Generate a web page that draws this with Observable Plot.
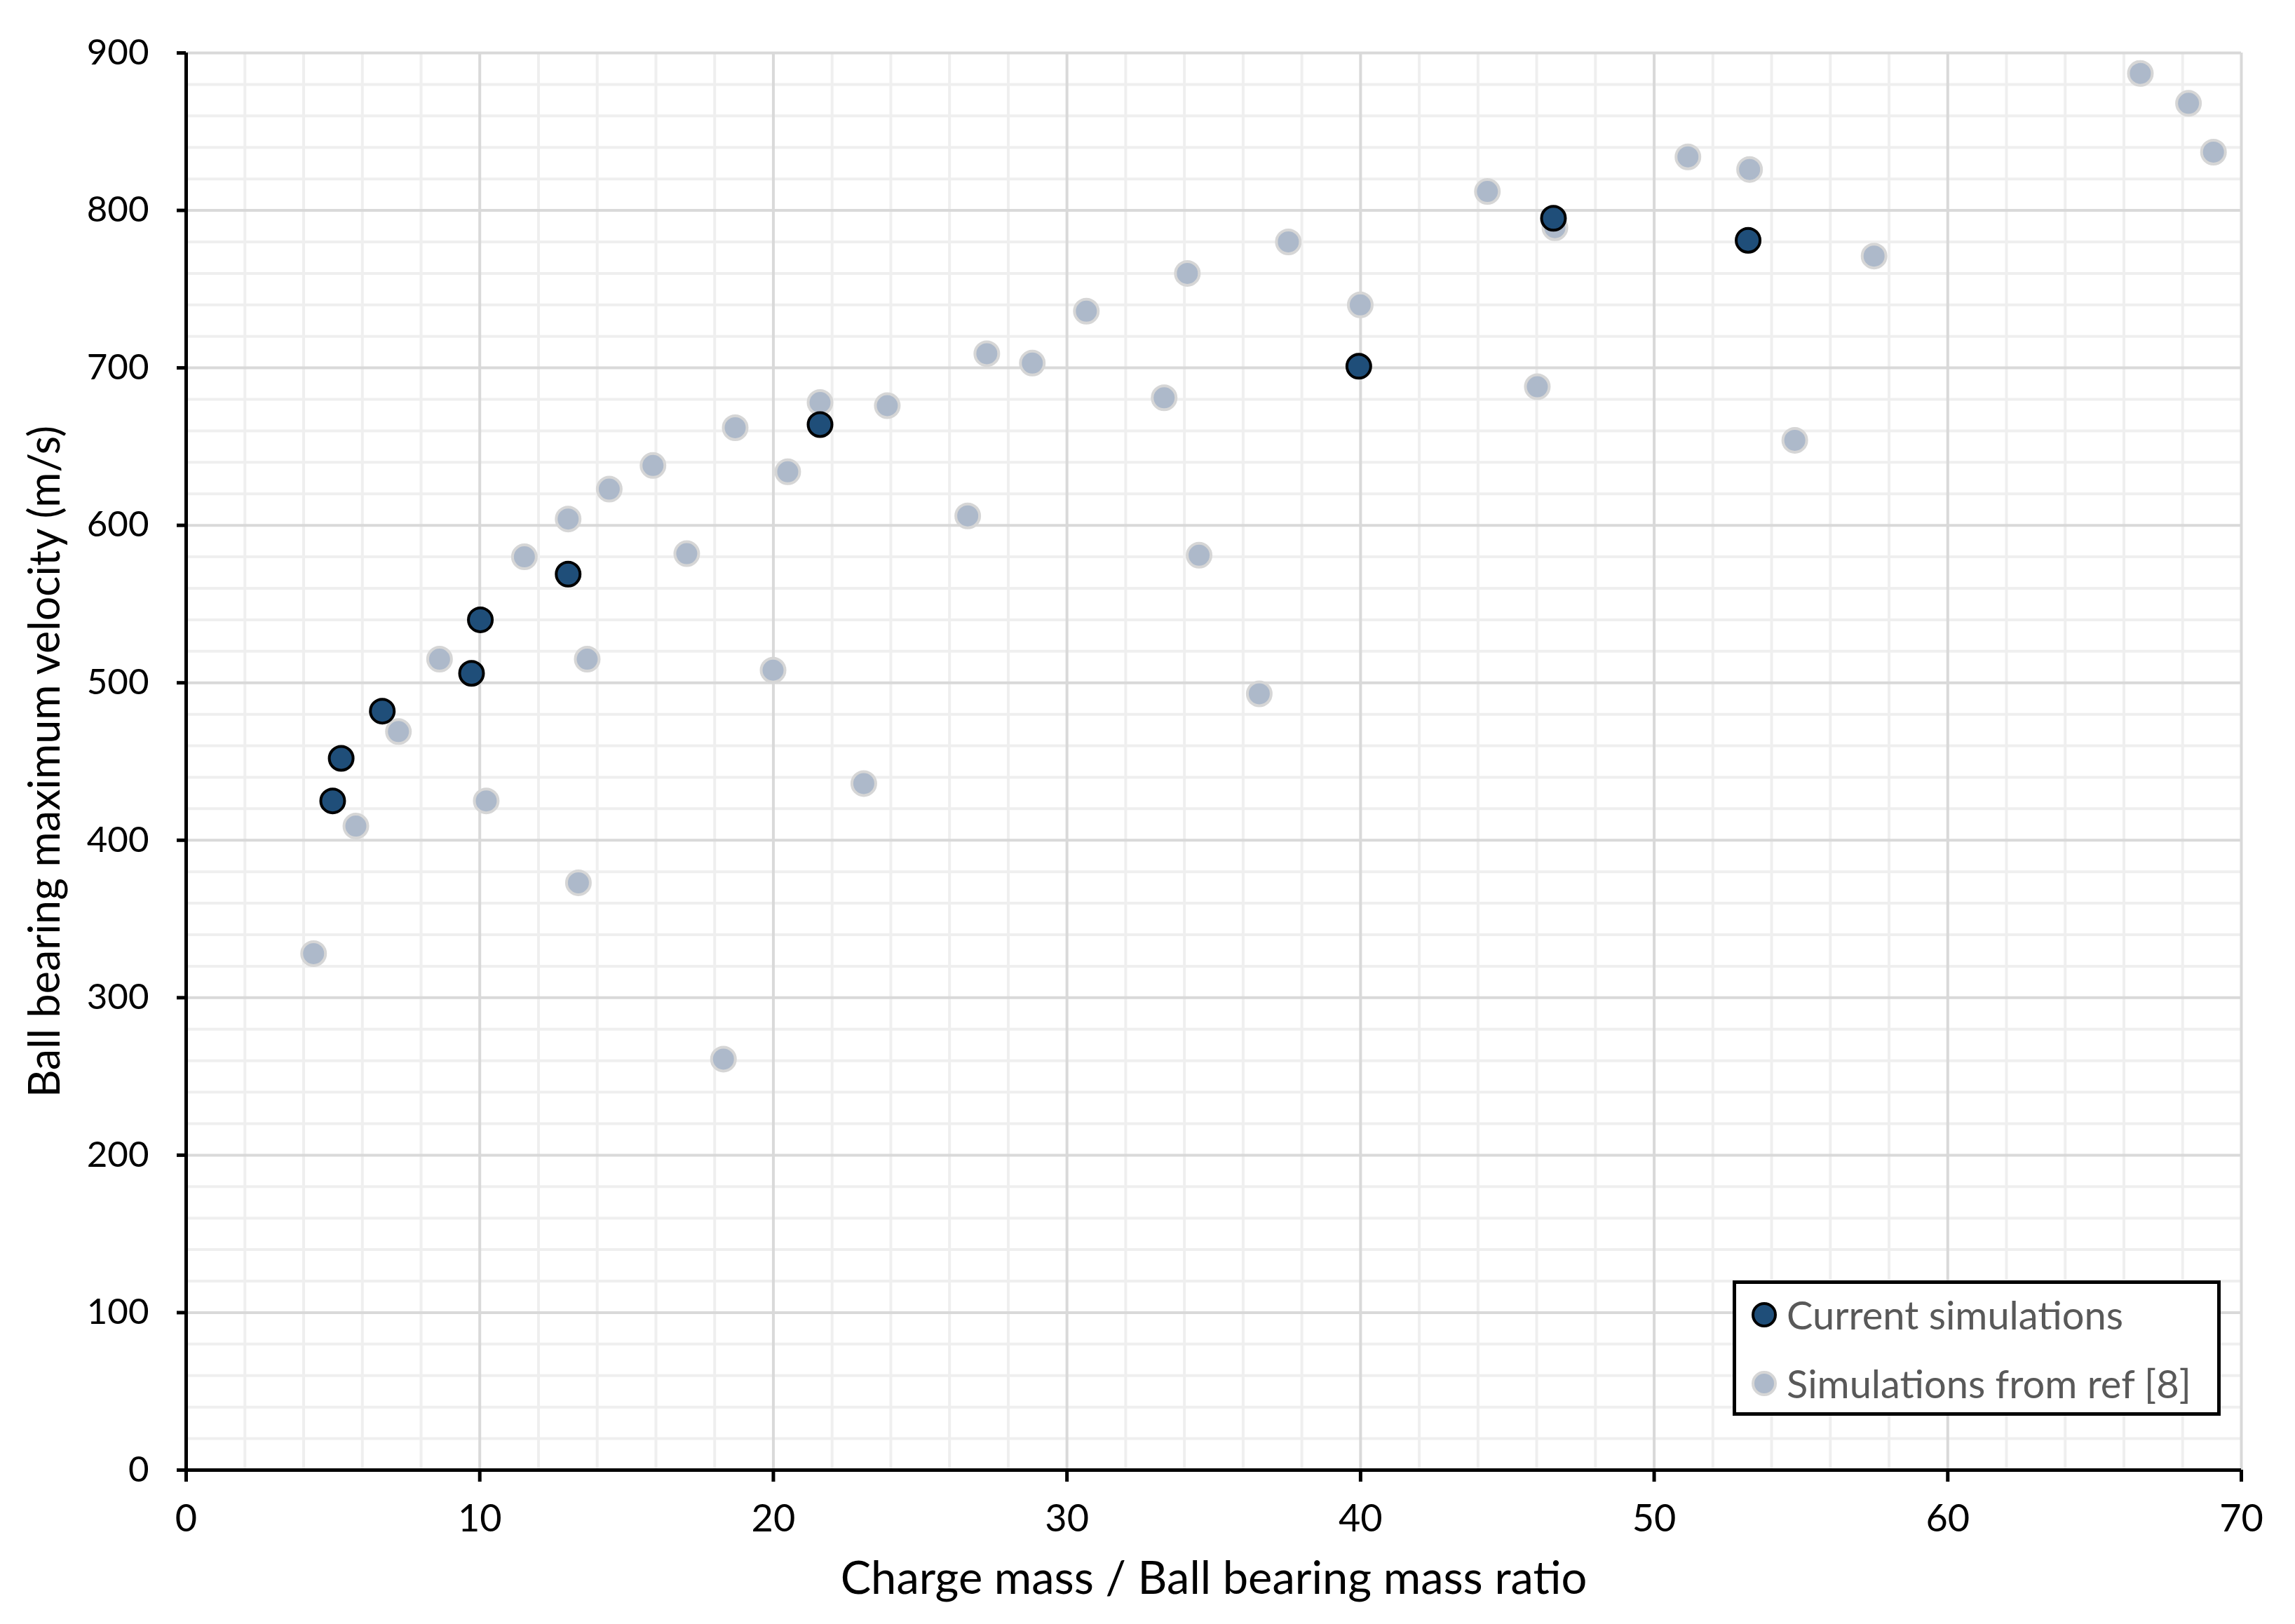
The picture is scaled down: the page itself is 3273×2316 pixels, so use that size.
<!DOCTYPE html>
<html>
<head>
<meta charset="utf-8">
<script src="https://cdn.jsdelivr.net/npm/d3@7"></script>
<script src="https://cdn.jsdelivr.net/npm/@observablehq/plot@0.6"></script>
<style>
  html, body { margin: 0; padding: 0; background: white; }
  #wrap { position: relative; width: 3273px; height: 2316px; overflow: hidden; }
  #legend {
    position: absolute; left: 2471px; top: 1826px; width: 686px; height: 183px;
    border: 5px solid #000; background: #fff; font-family: Lato, sans-serif;
    font-size: 56px; color: #595959;
  }
  .row { position: absolute; left: 22px; display: flex; align-items: center; }
  .sw { width: 36px; height: 36px; border-radius: 50%; box-sizing: border-box; margin-right: 14px; }
</style>
</head>
<body>
<div id="wrap">
  <div id="chart"></div>
  <div id="legend">
    <div class="row" style="top:10px"><span class="sw" style="background:#1f4e79;border:4px solid #000"></span><span id="l1"></span></div>
    <div class="row" style="top:108px"><span class="sw" style="background:#adb9ca;border:4px solid #d6d6d6"></span><span id="l2"></span></div>
  </div>
</div>
<script>
// Series names
const seriesNames = ["Current simulations", "Simulations from ref [8]"];

// Current simulations
const curX = [4.99, 5.28, 6.68, 9.72, 10.02, 13.01, 21.59, 39.94, 46.57, 53.2];
const curY = [425, 452, 482, 506, 540, 569, 664, 701, 795, 781];

// Simulations from ref [8]
const refX = [4.34, 5.78, 7.23, 8.63, 10.22, 11.52, 13.01, 13.36, 13.66, 14.41, 15.9, 17.05, 18.3, 18.7, 19.99, 20.49, 21.59, 23.08, 23.88, 26.62, 27.27, 28.82, 30.66, 33.31, 34.1, 34.5, 36.55, 37.54, 39.99, 44.32, 46.02, 46.62, 51.15, 53.25, 54.79, 57.49, 66.56, 68.2, 69.05];
const refY = [328, 409, 469, 515, 425, 580, 604, 373, 515, 623, 638, 582, 261, 662, 508, 634, 678, 436, 676, 606, 709, 703, 736, 681, 760, 581, 493, 780, 740, 812, 688, 789, 834, 826, 654, 771, 887, 868, 837];

// Axes
const xTicks = [0, 10, 20, 30, 40, 50, 60, 70];
const yTicks = [0, 100, 200, 300, 400, 500, 600, 700, 800, 900];
const xMinor = d3.range(2, 70, 2).filter(v => v % 10 !== 0);
const yMinor = d3.range(20, 900, 20).filter(v => v % 100 !== 0);
const xTitle = "Charge mass / Ball bearing mass ratio";
const yTitle = "Ball bearing maximum velocity (m/s)";

const cur = curX.map((x, i) => ({x, y: curY[i]}));
const ref = refX.map((x, i) => ({x, y: refY[i]}));

document.getElementById("l1").textContent = seriesNames[0];
document.getElementById("l2").textContent = seriesNames[1];

const chart = Plot.plot({
  width: 3273, height: 2316,
  marginLeft: 265, marginRight: 77, marginTop: 75, marginBottom: 220,
  x: {domain: [0, 70]},
  y: {domain: [0, 900]},
  style: {fontFamily: "Lato, sans-serif", fontSize: "50px", color: "#000", background: "white", overflow: "visible"},
  marks: [
    Plot.ruleX(xMinor, {stroke: "#efefef", strokeWidth: 4}),
    Plot.ruleY(yMinor, {stroke: "#efefef", strokeWidth: 4}),
    Plot.ruleX(xTicks.slice(1), {stroke: "#d9d9d9", strokeWidth: 4}),
    Plot.ruleY(yTicks.slice(1), {stroke: "#d9d9d9", strokeWidth: 4}),
    Plot.axisX({ticks: xTicks, tickSize: 17, strokeWidth: 5, tickPadding: 32, fontSize: 54, label: null}),
    Plot.axisY({ticks: yTicks, tickSize: 13, strokeWidth: 5, tickPadding: 40, fontSize: 51, label: null}),
    Plot.ruleX([0], {stroke: "#000", strokeWidth: 5}),
    Plot.ruleY([0], {stroke: "#000", strokeWidth: 5}),
    Plot.dot(ref, {x: "x", y: "y", r: 17, fill: "#adb9ca", stroke: "#d6d6d6", strokeWidth: 4}),
    Plot.dot(cur, {x: "x", y: "y", r: 17, fill: "#1f4e79", stroke: "#000", strokeWidth: 4}),
    Plot.text([xTitle], {frameAnchor: "bottom", dy: 176, fontSize: 65, fill: "#000"}),
    Plot.text([yTitle], {frameAnchor: "left", textAnchor: "middle", dx: -200, rotate: -90, fontSize: 61, fill: "#000"})
  ]
});
document.getElementById("chart").appendChild(chart);
</script>
</body>
</html>
